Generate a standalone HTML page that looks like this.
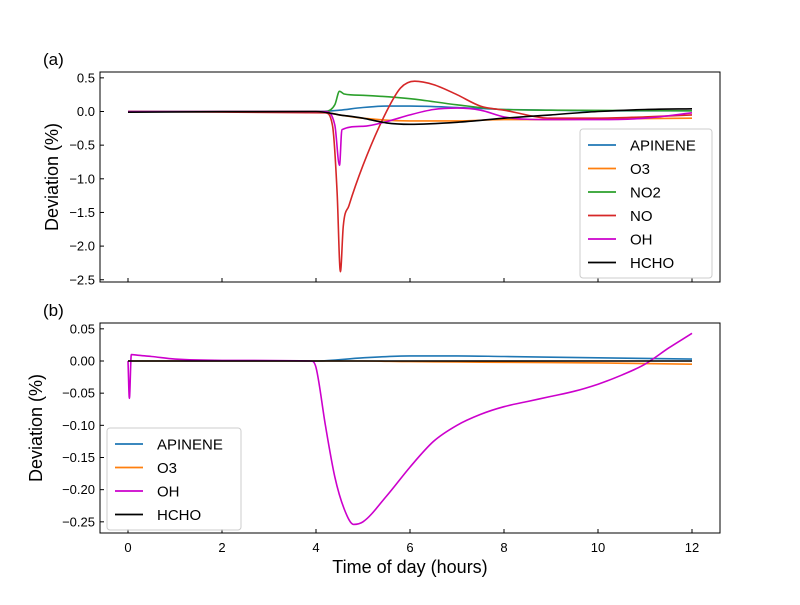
<!DOCTYPE html>
<html><head><meta charset="utf-8"><style>body{margin:0;background:#fff}svg text{font-family:"Liberation Sans",sans-serif}</style></head>
<body>
<svg id="c" width="800" height="600" xmlns="http://www.w3.org/2000/svg"></svg>
<script>
const tA=[0,4,4.5,5,5.5,6,7,8,9,10,12];
const apA=[0,0,0.02,0.06,0.08,0.08,0.06,0.03,0.02,0.01,0.01];
const tO3=[0,4,4.5,5,6,7,8,9,10,12];
const o3A=[0,0,-0.05,-0.1,-0.14,-0.14,-0.12,-0.12,-0.11,-0.1];
const tNO2=[0,4.2,4.4,4.5,4.6,5,6,7,8,9,12];
const no2A=[0,0,0.1,0.3,0.26,0.24,0.19,0.1,0.03,0.02,0.01];
const tNO=[0,4.2,4.35,4.45,4.52,4.58,4.7,5,5.5,5.8,6.1,6.5,7,7.5,8,9,10,11,12];
const noA=[0,-0.02,-0.2,-1.2,-2.38,-1.7,-1.4,-0.8,0,0.35,0.45,0.4,0.25,0.08,0.02,-0.1,-0.1,-0.08,-0.05];
const tOH=[0,4.2,4.4,4.5,4.55,5,5.5,6,6.5,7,7.5,8,9,10,11,12];
const ohA=[0,0,-0.2,-0.8,-0.27,-0.22,-0.15,-0.05,0.03,0.05,0.02,-0.08,-0.12,-0.12,-0.1,-0.02];
const tH=[0,4,4.5,5,5.5,6,7,8,9,10,11,12];
const hA=[-0.01,0,-0.05,-0.1,-0.17,-0.19,-0.16,-0.1,-0.05,0,0.03,0.04];
const tOHb=[0,0.03,0.07,0.2,0.5,1,2,3.9,4,4.2,4.4,4.6,4.8,5,5.5,6,6.5,7,7.5,8,8.5,9,9.5,10,10.5,11,11.5,12];
const ohB=[0,-0.058,0.01,0.009,0.007,0.003,0.001,0,-0.01,-0.1,-0.18,-0.23,-0.254,-0.25,-0.21,-0.165,-0.125,-0.1,-0.083,-0.071,-0.063,-0.055,-0.047,-0.036,-0.022,-0.005,0.02,0.043];
const tB=[0,4,5,6,7,8,10,12];
const apB=[0,0,0.005,0.008,0.008,0.007,0.005,0.003];
const o3B=[0,0,0,-0.001,-0.0015,-0.002,-0.003,-0.005];
const hB=[0,0,0,0,0,0,0,0];
const xTicks=[0,2,4,6,8,10,12];
const yTicksA=[0.5,0,-0.5,-1,-1.5,-2,-2.5];
const yTicksB=[0.05,0,-0.05,-0.1,-0.15,-0.2,-0.25];
const svg=document.getElementById('c');const NS='http://www.w3.org/2000/svg';
function mk(t,a,p){const e=document.createElementNS(NS,t);for(const k in a)e.setAttribute(k,a[k]);(p||svg).appendChild(e);return e;}
const X=v=>128+v*47;
const YA=v=>111.5-v*67.3;
const YB=v=>361-v*643.3;
function panel(top,Y,ticks,fmt,name,label){
 const g=mk('g',{});
 mk('rect',{x:100,y:top,width:620,height:210,fill:'none',stroke:'#000','stroke-width':1},g);
 xTicks.forEach(v=>{mk('line',{x1:X(v),x2:X(v),y1:top+210,y2:top+206,stroke:'#000'},g);});
 ticks.forEach(v=>{const y=Y(v);mk('line',{x1:100,x2:104,y1:y,y2:y,stroke:'#000'},g);
  const t=mk('text',{x:95,y:y+4.5,'font-size':13,'text-anchor':'end'},g);t.textContent=fmt(v);});
 const t=mk('text',{x:43,y:top-7,'font-size':17},g);t.textContent=label;
 return g;}
const fA=v=>v.toFixed(1).replace('-','−'), fB=v=>v.toFixed(2).replace('-','−');
panel(72,YA,yTicksA,fA,'panel-a','(a)');
panel(323,YB,yTicksB,fB,'panel-b','(b)');
xTicks.forEach(v=>{const t=mk('text',{x:X(v),y:552,'font-size':13,'text-anchor':'middle'});t.textContent=v;});
function smooth(P){const n=P.length;const d=[],m=[];
 for(let i=0;i<n-1;i++)d.push((P[i+1][1]-P[i][1])/(P[i+1][0]-P[i][0]));
 for(let i=0;i<n;i++){if(i==0)m.push(d[0]);else if(i==n-1)m.push(d[n-2]);else m.push(d[i-1]*d[i]<=0?0:(d[i-1]+d[i])/2);}
 for(let i=0;i<n-1;i++){if(d[i]==0){m[i]=0;m[i+1]=0;continue;}const a=m[i]/d[i],b=m[i+1]/d[i],s=a*a+b*b;if(s>9){const t=3/Math.sqrt(s);m[i]=t*a*d[i];m[i+1]=t*b*d[i];}}
 let s='M'+P[0][0].toFixed(1)+','+P[0][1].toFixed(1);
 for(let i=0;i<n-1;i++){const h=(P[i+1][0]-P[i][0])/3;s+='C'+(P[i][0]+h).toFixed(1)+','+(P[i][1]+m[i]*h).toFixed(1)+' '+(P[i+1][0]-h).toFixed(1)+','+(P[i+1][1]-m[i+1]*h).toFixed(1)+' '+P[i+1][0].toFixed(1)+','+P[i+1][1].toFixed(1);}
 return s;}
function line(ts,vs,Y,col,name,top){const cp=mk('clipPath',{id:'cp'+name});mk('rect',{x:100,y:top,width:620,height:210},cp);
 const p=mk('path',{d:smooth(ts.map((t,i)=>[X(t),Y(vs[i])])),fill:'none',stroke:col,'stroke-width':1.6,'stroke-linejoin':'round','clip-path':'url(#cp'+name+')'});
 }
const C={ap:'#1f77b4',o3:'#ff7f0e',no2:'#2ca02c',no:'#d62728',oh:'#cc00cc',h:'#000'};
line(tA,apA,YA,C.ap,'apinene-a',72);line(tO3,o3A,YA,C.o3,'o3-a',72);line(tNO2,no2A,YA,C.no2,'no2-a',72);
line(tNO,noA,YA,C.no,'no-a',72);line(tOH,ohA,YA,C.oh,'oh-a',72);line(tH,hA,YA,C.h,'hcho-a',72);
line(tB,apB,YB,C.ap,'apinene-b',323);line(tB,o3B,YB,C.o3,'o3-b',323);line(tOHb,ohB,YB,C.oh,'oh-b',323);line(tB,hB,YB,C.h,'hcho-b',323);
function legend(x,y,w,items,name){const g=mk('g',{});
 mk('rect',{x:x,y:y,width:w,height:items.length*23.5+8,rx:3,fill:'#fff','fill-opacity':0.8,stroke:'#ccc'},g);
 items.forEach((it,i)=>{const cy=y+16+i*23.5;mk('line',{x1:x+8,x2:x+36,y1:cy,y2:cy,stroke:it[1],'stroke-width':1.8},g);
  const t=mk('text',{x:x+50,y:cy+5.5,'font-size':15},g);t.textContent=it[0];});}
legend(580,129,132,[['APINENE',C.ap],['O3',C.o3],['NO2',C.no2],['NO',C.no],['OH',C.oh],['HCHO',C.h]],'legend-a');
legend(107,428,134,[['APINENE',C.ap],['O3',C.o3],['OH',C.oh],['HCHO',C.h]],'legend-b');
let t=mk('text',{x:410,y:573,'font-size':18,'text-anchor':'middle'});t.textContent='Time of day (hours)';
t=mk('text',{x:0,y:0,'font-size':18,'text-anchor':'middle',transform:'translate(58,177) rotate(-90)'});t.textContent='Deviation (%)';
t=mk('text',{x:0,y:0,'font-size':18,'text-anchor':'middle',transform:'translate(42,428) rotate(-90)'});t.textContent='Deviation (%)';
</script>
</body></html>
